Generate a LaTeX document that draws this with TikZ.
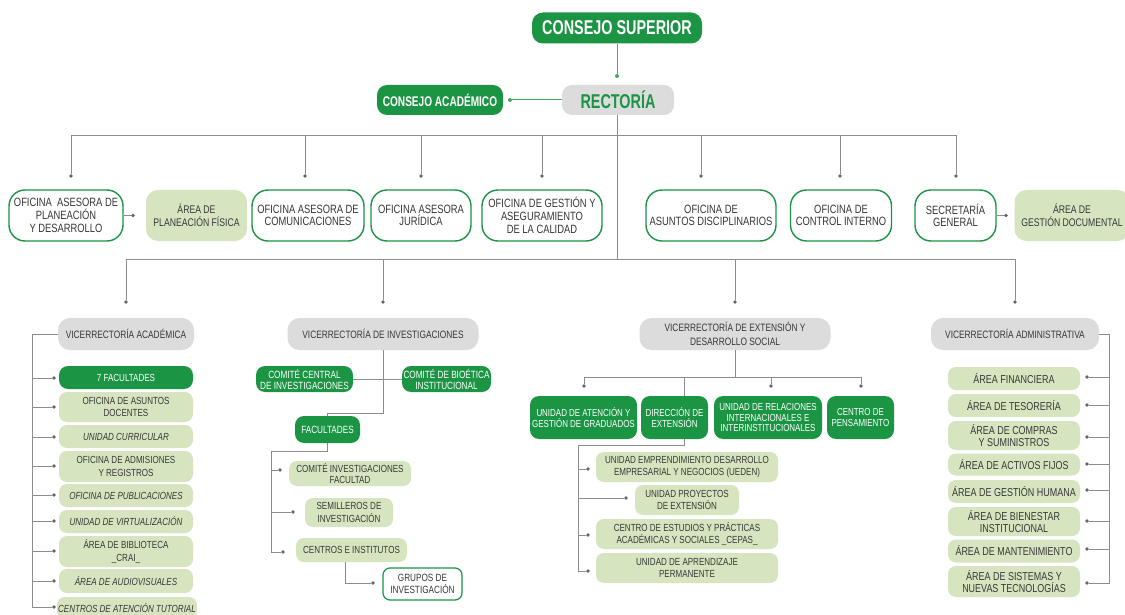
\documentclass[tikz,border=0pt]{standalone}
\usepackage{fontspec}
\setmainfont[FakeStretch=0.78]{Liberation Sans}
\newfontfamily\titlefont[FakeStretch=0.72]{Liberation Sans}
\usetikzlibrary{calc}
\definecolor{dg}{RGB}{27,148,68}
\definecolor{lgc}{RGB}{214,229,192}
\definecolor{grc}{RGB}{220,220,220}
\definecolor{txc}{RGB}{55,55,55}
\definecolor{lnc}{RGB}{140,140,140}
\definecolor{dotc}{RGB}{100,100,100}
\definecolor{gln}{RGB}{70,170,95}
\newcommand\fs[2]{\fontsize{#1}{#2}\selectfont}
\tikzset{
  sz/.style 2 args={minimum width=#1pt, minimum height=#2pt},
  base/.style={align=center, inner sep=0pt, text=txc},
  office/.style={base, draw=dg, line width=1.4pt, fill=white, rounded corners=16pt, font=\fs{12}{12.7}},
  lgbox/.style={base, fill=lgc, rounded corners=8pt, font=\fs{10.3}{12.2}},
  lgit/.style={lgbox, font=\fs{10.3}{12.2}\itshape},
  adbox/.style={base, fill=lgc, rounded corners=8pt, font=\fs{11.5}{12.3}},
  dkbox/.style={base, fill=dg, rounded corners=9pt, text=white, font=\fs{10.5}{11}},
  vrbox/.style={base, fill=grc, rounded corners=12pt, font=\fs{10.7}{14}},
  dotn/.style={circle, fill=dotc, inner sep=0pt, minimum size=3.6pt},
  gdot/.style={circle, fill=gln, inner sep=0pt, minimum size=4pt},
  ln/.style={draw=lnc, line width=0.8pt},
  gl/.style={draw=gln, line width=1pt},
}
\begin{document}
\begin{tikzpicture}[x=1pt,y=-1pt]
\useasboundingbox (0,0) rectangle (1125,615);
\fill[white] (0,0) rectangle (1125,615);

% ---------- top ----------
\node[base, fill=dg, rounded corners=11pt, text=white, font=\titlefont\bfseries\fs{20}{22}, sz={170}{31}] (sup) at (617,28) {CONSEJO SUPERIOR};
\node[base, fill=grc, rounded corners=10pt, text=dg, font=\titlefont\bfseries\fs{20}{22}, sz={112}{30}] (rect) at (618,100) {RECTORÍA};
\node[base, fill=dg, rounded corners=10pt, text=white, font=\titlefont\bfseries\fs{14}{16}, sz={126}{30}] (acad) at (440,100) {CONSEJO ACADÉMICO};
\node[gdot] (dS) at (617,76) {};
\node[gdot] (dA) at (510,100) {};
\draw[gl] (sup.south -| dS) -- (dS);
\draw[gl] (dA) -- (rect.west);

% ---------- buses ----------
\coordinate (b1L) at (71,135);
\coordinate (b1R) at (956,135);
\coordinate (b2L) at (126,259);
\coordinate (b2R) at (1015,259);
\draw[ln] (rect.south -| dS) -- (b2L -| dS);
\draw[ln] (b1L) -- (b1R);
\draw[ln] (b2L) -- (b2R);

% ---------- offices ----------
\node[office, sz={114}{51}] (plan) at (66,215.5) {OFICINA\ \ ASESORA DE\\PLANEACIÓN\\Y DESARROLLO};
\node[lgbox, font=\fs{11.1}{12.7}, rounded corners=12pt, sz={101}{51}] (plf) at (196.5,215.5) {ÁREA DE\\PLANEACIÓN FÍSICA};
\node[office, sz={112}{51}] (com) at (308,215.5) {OFICINA ASESORA DE\\COMUNICACIONES};
\node[office, sz={100}{51}] (jur) at (421,215.5) {OFICINA ASESORA\\JURÍDICA};
\node[office, sz={120}{51}] (ges) at (542,215.5) {OFICINA DE GESTIÓN Y\\ASEGURAMIENTO\\DE LA CALIDAD};
\node[office, sz={130}{51}] (dis) at (711,215.5) {OFICINA DE\\ASUNTOS DISCIPLINARIOS};
\node[office, sz={101}{51}] (con) at (841,215.5) {OFICINA DE\\CONTROL INTERNO};
\node[office, sz={81}{51}] (sec) at (955.5,215.5) {SECRETARÍA\\GENERAL};
\node[lgbox, font=\fs{11.1}{12.7}, rounded corners=12pt, sz={115}{51}] (gdoc) at (1072,215.5) {ÁREA DE\\GESTIÓN DOCUMENTAL};

\foreach \n/\xx in {o1/71, o2/305, o3/421, o4/542, o5/701, o6/840, o7/956}{
  \node[dotn] (\n) at (\xx,176) {};
  \draw[ln] (\n |- b1L) -- (\n);
}
\node[dotn] (dpl) at (133,215.5) {};
\draw[ln] (plan.east) -- (dpl);
\node[dotn] (dsc) at (1006,215.5) {};
\draw[ln] (sec.east) -- (dsc);

% ---------- vicerrectorías ----------
\node[vrbox, sz={136}{32}] (vra) at (126,334) {VICERRECTORÍA ACADÉMICA};
\node[vrbox, sz={191}{32}] (vri) at (383,334) {VICERRECTORÍA DE INVESTIGACIONES};
\node[vrbox, sz={191}{32}] (vre) at (735,334) {VICERRECTORÍA DE EXTENSIÓN Y\\DESARROLLO SOCIAL};
\node[vrbox, sz={168}{32}] (vad) at (1015,334) {VICERRECTORÍA ADMINISTRATIVA};
\foreach \n/\xx in {v1/126, v2/383, v3/735, v4/1015}{
  \node[dotn] (\n) at (\xx,302) {};
  \draw[ln] (\n |- b2L) -- (\n);
}

% ---------- académica ----------
\node[dkbox, font=\fs{10.3}{12.2}, sz={134}{23}] (a1) at (126,377.5) {7 FACULTADES};
\node[lgbox, sz={134}{30}] (a2) at (126,407) {OFICINA DE ASUNTOS\\DOCENTES};
\node[lgit, sz={134}{23}] (a3) at (126,436.5) {UNIDAD CURRICULAR};
\node[lgbox, sz={134}{31}] (a4) at (126,466.5) {OFICINA DE ADMISIONES\\Y REGISTROS};
\node[lgit, sz={134}{23}] (a5) at (126,495.5) {OFICINA DE PUBLICACIONES};
\node[lgit, sz={134}{23}] (a6) at (126,521.5) {UNIDAD DE VIRTUALIZACIÓN};
\node[lgbox, sz={134}{31}] (a7) at (126,551.5) {ÁREA DE BIBLIOTECA\\\_CRAI\_};
\node[lgit, sz={134}{24}] (a8) at (126,581) {ÁREA DE AUDIOVISUALES};
\node[lgit, sz={140}{22}] (a9) at (127,608) {CENTROS DE ATENCIÓN TUTORIAL};
\coordinate (at) at (32,334);
\foreach \n/\yy in {da1/378, da2/407, da3/437, da4/466, da5/495, da6/521, da7/551, da8/581, da9/607}{
  \node[dotn] (\n) at (54,\yy) {};
}
\draw[ln] (vra.west) -- (at) |- (da9);
\foreach \n in {da1,da2,da3,da4,da5,da6,da7,da8}{
  \draw[ln] (\n -| at) -- (\n);
}

% ---------- investigaciones ----------
\coordinate (iv) at (383,413);
\node[dkbox, sz={65}{27}] (fi) at (327.5,429.5) {FACULTADES};
\draw[ln] (vri.south) -- (iv) -| (fi.north);
\node[dkbox, sz={97}{26}] (cc) at (304.5,379) {COMITÉ CENTRAL\\DE INVESTIGACIONES};
\node[dkbox, sz={89}{26}] (cb) at (446.5,379) {COMITÉ DE BIOÉTICA\\INSTITUCIONAL};
\draw[ln] (cc.east) -- (cb.west);
\node[lgbox, font=\fs{10.3}{11.6}, sz={122}{25}] (i1) at (350,473.5) {COMITÉ INVESTIGACIONES\\FACULTAD};
\node[lgbox, sz={88}{29}] (i2) at (349,512.5) {SEMILLEROS DE\\INVESTIGACIÓN};
\node[lgbox, sz={111}{24}] (i3) at (351.5,550) {CENTROS E INSTITUTOS};
\node[base, draw=dg, line width=1.2pt, fill=white, rounded corners=7pt, font=\fs{10.5}{12}, sz={79}{32}] (gi) at (422.5,584) {GRUPOS DE\\INVESTIGACIÓN};
\coordinate (ft) at (271,451);
\node[dotn] (di1) at (280,470) {};
\node[dotn] (di2) at (293,512) {};
\node[dotn] (di3) at (283,552) {};
\node[dotn] (dgi) at (373,583) {};
\draw[ln] (fi.south) |- (ft) |- (di3);
\draw[ln] (di1 -| ft) -- (di1);
\draw[ln] (di2 -| ft) -- (di2);
\draw[ln] ([xshift=-6pt]i3.south) |- (dgi);

% ---------- extensión ----------
\coordinate (ebL) at (584,377);
\coordinate (ebR) at (861,377);
\coordinate (ed) at (684,445);
\coordinate (et) at (578,445);
\node[dotn] (de1) at (588,469) {};
\node[dotn] (de2) at (626,498) {};
\node[dotn] (de3) at (588,535) {};
\node[dotn] (de4) at (588,571) {};
\draw[ln] (vre.south) -- (vre.south |- ebL);
\draw[ln] (ebL) -- (ebR);
\draw[ln] (ed |- ebL) -- (ed) -- (et) |- (de4);
\draw[ln] (de1 -| et) -- (de1);
\draw[ln] (de2 -| et) -- (de2);
\draw[ln] (de3 -| et) -- (de3);
\foreach \n/\xx in {dx1/584, dx3/771, dx4/861}{
  \node[dotn] (\n) at (\xx,386) {};
  \draw[ln] (\n |- ebL) -- (\n);
}
\node[dkbox, font=\fs{10.2}{10.8}, sz={107}{43}] (x1) at (583.5,417.5) {UNIDAD DE ATENCIÓN Y\\GESTIÓN DE GRADUADOS};
\node[dkbox, font=\fs{10.2}{10.8}, sz={67}{43}] (x2) at (674.5,417.5) {DIRECCIÓN DE\\EXTENSIÓN};
\node[dkbox, font=\fs{10.2}{10.8}, sz={108}{43}] (x3) at (768,417.5) {UNIDAD DE RELACIONES\\INTERNACIONALES E\\INTERINSTITUCIONALES};
\node[dkbox, font=\fs{10.2}{10.8}, sz={67}{43}] (x4) at (860.5,417.5) {CENTRO DE\\PENSAMIENTO};
\node[lgbox, sz={182}{30}] (e1) at (687,467) {UNIDAD EMPRENDIMIENTO DESARROLLO\\EMPRESARIAL Y NEGOCIOS (UEDEN)};
\node[lgbox, sz={104}{30}] (e2) at (687,500) {UNIDAD PROYECTOS\\DE EXTENSIÓN};
\node[lgbox, sz={182}{30}] (e3) at (687,534) {CENTRO DE ESTUDIOS Y PRÁCTICAS\\ACADÉMICAS Y SOCIALES \_CEPAS\_};
\node[lgbox, sz={182}{30}] (e4) at (687,568) {UNIDAD DE APRENDIZAJE\\PERMANENTE};

% ---------- administrativa ----------
\node[adbox, sz={132}{23}] (r1) at (1014,378.5) {ÁREA FINANCIERA};
\node[adbox, sz={132}{23}] (r2) at (1014,405.5) {ÁREA DE TESORERÍA};
\node[adbox, sz={132}{29}] (r3) at (1014,435.5) {ÁREA DE COMPRAS\\Y SUMINISTROS};
\node[adbox, sz={132}{22}] (r4) at (1014,464.5) {ÁREA DE ACTIVOS FIJOS};
\node[adbox, sz={132}{23}] (r5) at (1014,491.5) {ÁREA DE GESTIÓN HUMANA};
\node[adbox, sz={132}{29}] (r6) at (1014,521.5) {ÁREA DE BIENESTAR\\INSTITUCIONAL};
\node[adbox, sz={132}{23}] (r7) at (1014,551) {ÁREA DE MANTENIMIENTO};
\node[adbox, sz={132}{31}] (r8) at (1014,581.5) {ÁREA DE SISTEMAS Y\\NUEVAS TECNOLOGÍAS};
\coordinate (rt) at (1109,334);
\foreach \n/\yy in {dr1/377, dr2/405, dr3/437, dr4/464, dr5/490, dr6/521, dr7/549, dr8/583}{
  \node[dotn] (\n) at (1087,\yy) {};
}
\draw[ln] (vad.east) -- (rt) |- (dr8);
\foreach \n in {dr1,dr2,dr3,dr4,dr5,dr6,dr7}{
  \draw[ln] (\n -| rt) -- (\n);
}
\end{tikzpicture}
\end{document}
